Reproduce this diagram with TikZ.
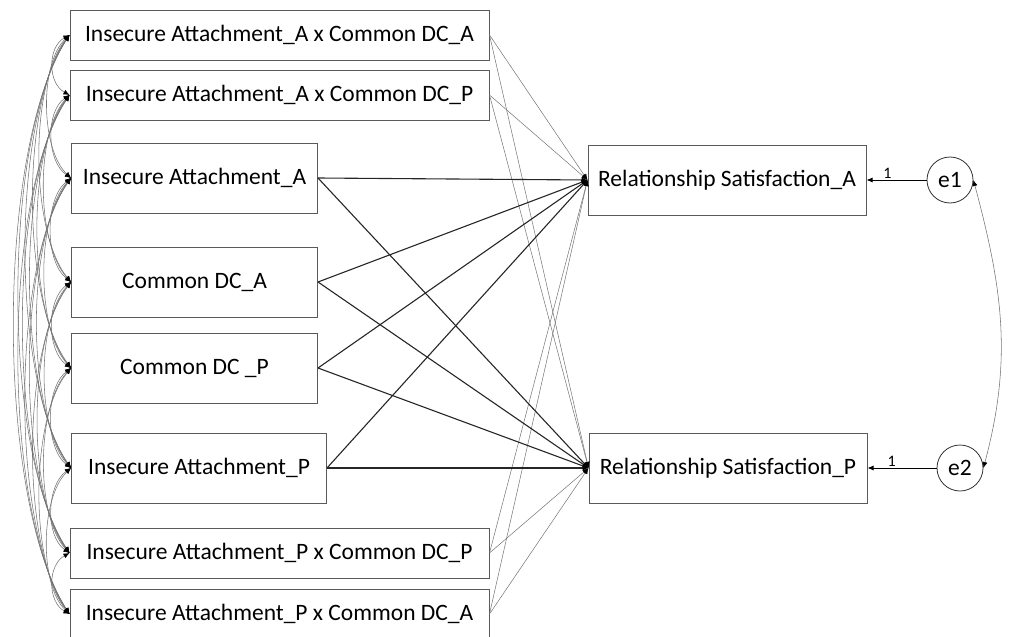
\documentclass[tikz,border=0pt]{standalone}
\usepackage{fontspec}
\setmainfont{Carlito}
\usetikzlibrary{positioning,arrows.meta,calc}
\definecolor{mygray}{RGB}{90,90,90}
\definecolor{mylight}{RGB}{115,115,115}

\begin{document}
\begin{tikzpicture}[x=1pt,y=1pt,
        every node/.style={font=\fontsize{23.5}{28}\selectfont},
        box/.style={draw=mygray,line width=1pt,rectangle,inner sep=0pt},
        wide/.style={box,minimum width=419pt,minimum height=50pt},
        narrow/.style={box,minimum width=246pt,minimum height=70pt},
        err/.style={draw=black!80,line width=0.8pt,circle,minimum size=46pt,inner sep=0pt},
        tip/.style={-{Latex[length=6pt,width=5pt,color=black]}},
        main/.style={tip,line width=1.1pt,black!85},
        inter/.style={tip,line width=0.5pt,mylight},
        cov/.style={{Latex[length=6pt,width=5pt,color=black]}-{Latex[length=6pt,width=5pt,color=black]},line width=0.55pt,mylight}
      ]
      \useasboundingbox (0,0) rectangle (1013,-637);

      % the predictors
      \node[wide] (x1) at (279.5,-35) {Insecure Attachment\_A x Common DC\_A};
      \node[wide] (x2) at (279.5,-95) {Insecure Attachment\_A x Common DC\_P};
      \node[narrow] (x3) at (194.5,-178) {Insecure Attachment\_A};
      \node[narrow] (x4) at (194.5,-282) {Common DC\_A};
      \node[narrow] (x5) at (194.5,-368) {Common DC \_P};
      \node[narrow,minimum width=255pt] (x6) at (199,-468) {Insecure Attachment\_P};
      \node[wide] (x7) at (279.5,-553) {Insecure Attachment\_P x Common DC\_P};
      \node[wide] (x8) at (279.5,-614) {Insecure Attachment\_P x Common DC\_A};

      % the outcomes
      \node[box,minimum width=278pt,minimum height=70pt] (y1) at (727,-180) {Relationship Satisfaction\_A};
      \node[box,minimum width=278pt,minimum height=70pt] (y2) at (728,-468) {Relationship Satisfaction\_P};

      % the residuals
      \node[err] (e1) at (950,-180) {e1};
      \node[err] (e2) at (960,-468) {e2};
      \draw[tip,line width=0.8pt] (e1) -- node[above,pos=0.65,font=\fontsize{16}{18}\selectfont,inner sep=1pt] {1} (y1);
      \draw[tip,line width=0.8pt] (e2) -- node[above,pos=0.65,font=\fontsize{16}{18}\selectfont,inner sep=1pt] {1} (y2);
      \draw[cov] (e1.east) to[out=-75,in=75] (e2.east);

      % the covariances
      \foreach \i in {1,...,7} {
        \pgfmathtruncatemacro\nxt{\i+1}
        \foreach \j in {\nxt,...,8}
          \draw[cov] let \p1=(x\i.west), \p2=(x\j.west), \n1={\y1-\y2} in
            (\p1) .. controls ($(\p1)+(-16-0.1*\n1,-0.2*\n1)$) and ($(\p2)+(-16-0.1*\n1,0.2*\n1)$) .. (\p2);
      }

      % the paths
      \foreach \i in {1,2,7,8} {
        \draw[inter] (x\i.east) -- (y1.west);
        \draw[inter] (x\i.east) -- (y2.west);
      }
      \foreach \i in {3,...,6} {
        \draw[main] (x\i.east) -- (y1.west);
        \draw[main] (x\i.east) -- (y2.west);
      }
\end{tikzpicture}
\end{document}
